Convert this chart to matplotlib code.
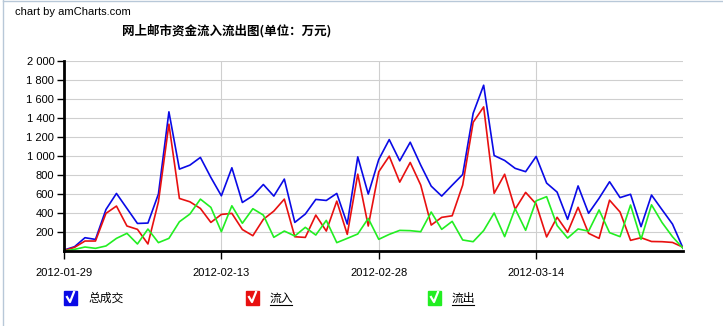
import matplotlib
matplotlib.use("Agg")
import matplotlib.pyplot as plt
import matplotlib.dates as mdates
import pandas as pd
from matplotlib.lines import Line2D
from matplotlib.patches import Rectangle

plt.rcParams['font.family'] = ['Liberation Sans', 'Noto Sans CJK SC', 'DejaVu Sans']

dates = pd.date_range('2012-01-29', periods=60, freq='D')

total = [10, 45, 140, 122, 437, 606, 448, 290, 294, 600,
         1465, 862, 904, 985, 774, 581, 876, 511, 581, 700,
         578, 757, 301, 389, 543, 532, 606, 284, 991, 599,
         963, 1173, 949, 1145, 904, 683, 578, 693, 805, 1450,
         1745, 1005, 953, 870, 835, 995, 715, 620, 333, 685,
         397, 555, 729, 562, 597, 256, 589, 435, 283, 30]
inflow = [5, 38, 105, 105, 396, 473, 263, 228, 74, 518,
          1335, 553, 518, 448, 301, 385, 396, 226, 161, 333,
          420, 546, 150, 143, 378, 210, 525, 175, 809, 263,
          834, 998, 725, 932, 694, 273, 354, 371, 694, 1355,
          1517, 607, 808, 440, 617, 495, 148, 355, 197, 460,
          186, 133, 535, 410, 112, 140, 100, 98, 90, 40]
outflow = [0, 17, 42, 28, 53, 133, 186, 74, 231, 88,
           133, 308, 389, 546, 459, 203, 476, 292, 445, 378,
           144, 210, 158, 249, 168, 322, 88, 133, 179, 343,
           123, 175, 217, 214, 203, 410, 228, 312, 116, 98,
           215, 400, 151, 445, 218, 528, 572, 268, 136, 232,
           209, 432, 193, 151, 484, 123, 486, 300, 150, 28]

series_names = ['总成交', '流入', '流出']
series_colors = ['#0a0ae6', '#e81010', '#22ee22']
x_ticks = ['2012-01-29', '2012-02-13', '2012-02-28', '2012-03-14']
y_ticks = list(range(200, 2001, 200))

W, H = 723, 326
fig = plt.figure(figsize=(W / 100, H / 100), dpi=100)
ax = fig.add_axes([64 / W, 1 - 251 / H, (683 - 64) / W, (251 - 61) / H])

for vals, c in zip([total, inflow, outflow], series_colors):
    ax.plot(dates, vals, color=c, lw=1.2, zorder=3)

ax.set_xlim(dates[0], dates[-1])
ax.set_ylim(0, 2000)

ax.set_yticks(y_ticks)
ax.set_yticklabels([f'{v:,}'.replace(',', ' ') for v in y_ticks], fontsize=8)
ax.set_xticks(pd.to_datetime(x_ticks))
ax.xaxis.set_major_formatter(mdates.DateFormatter('%Y-%m-%d'))
ax.tick_params(axis='x', labelsize=8, length=6, width=1, pad=6)
ax.tick_params(axis='y', length=5, width=1, pad=2)

ax.grid(True, color='#cfcfcf', lw=0.8, zorder=0)
for s in ['top', 'right']:
    ax.spines[s].set_visible(False)
for s in ['left', 'bottom']:
    ax.spines[s].set_linewidth(2)
    ax.spines[s].set_color('black')
    ax.spines[s].set_zorder(4)

# header texts
fig.text(15 / W, 1 - 12 / H, 'chart by amCharts.com', fontsize=8, va='center', ha='left')
fig.text(122 / W, 1 - 31 / H, '网上邮市资金流入流出图(单位：万元)', fontsize=9,
         fontweight='bold', va='center', ha='left',
         family=['Noto Sans CJK SC', 'DejaVu Sans'])

# faint frame lines
fig.add_artist(Line2D([3 / W, 3 / W], [0, 1], color='#b8c8d8', lw=1))
fig.add_artist(Line2D([3 / W, 1], [1 - 1 / H, 1 - 1 / H], color='#b8c8d8', lw=1))

# legend with checkboxes
legend_x = [64, 246, 428]
underline = [False, True, True]
for name, c, lx, ul in zip(series_names, series_colors, legend_x, underline):
    y0 = 305
    fig.add_artist(Rectangle((lx / W, 1 - y0 / H), 13 / W, 14 / H,
                             transform=fig.transFigure, facecolor=c, edgecolor=c))
    fig.add_artist(Line2D([(lx + 3) / W, (lx + 6) / W, (lx + 10) / W],
                          [1 - 297 / H, 1 - 302 / H, 1 - 292 / H],
                          color='white', lw=1.6, transform=fig.transFigure))
    t = fig.text((lx + 24) / W, 1 - 298 / H, name, fontsize=8.5, va='center', ha='left',
                 family=['Noto Sans CJK SC', 'DejaVu Sans'])
    if ul:
        fig.add_artist(Line2D([(lx + 24) / W, (lx + 46) / W], [1 - 305 / H, 1 - 305 / H],
                              color='black', lw=0.8, transform=fig.transFigure))

fig.savefig('out.png', dpi=100)
